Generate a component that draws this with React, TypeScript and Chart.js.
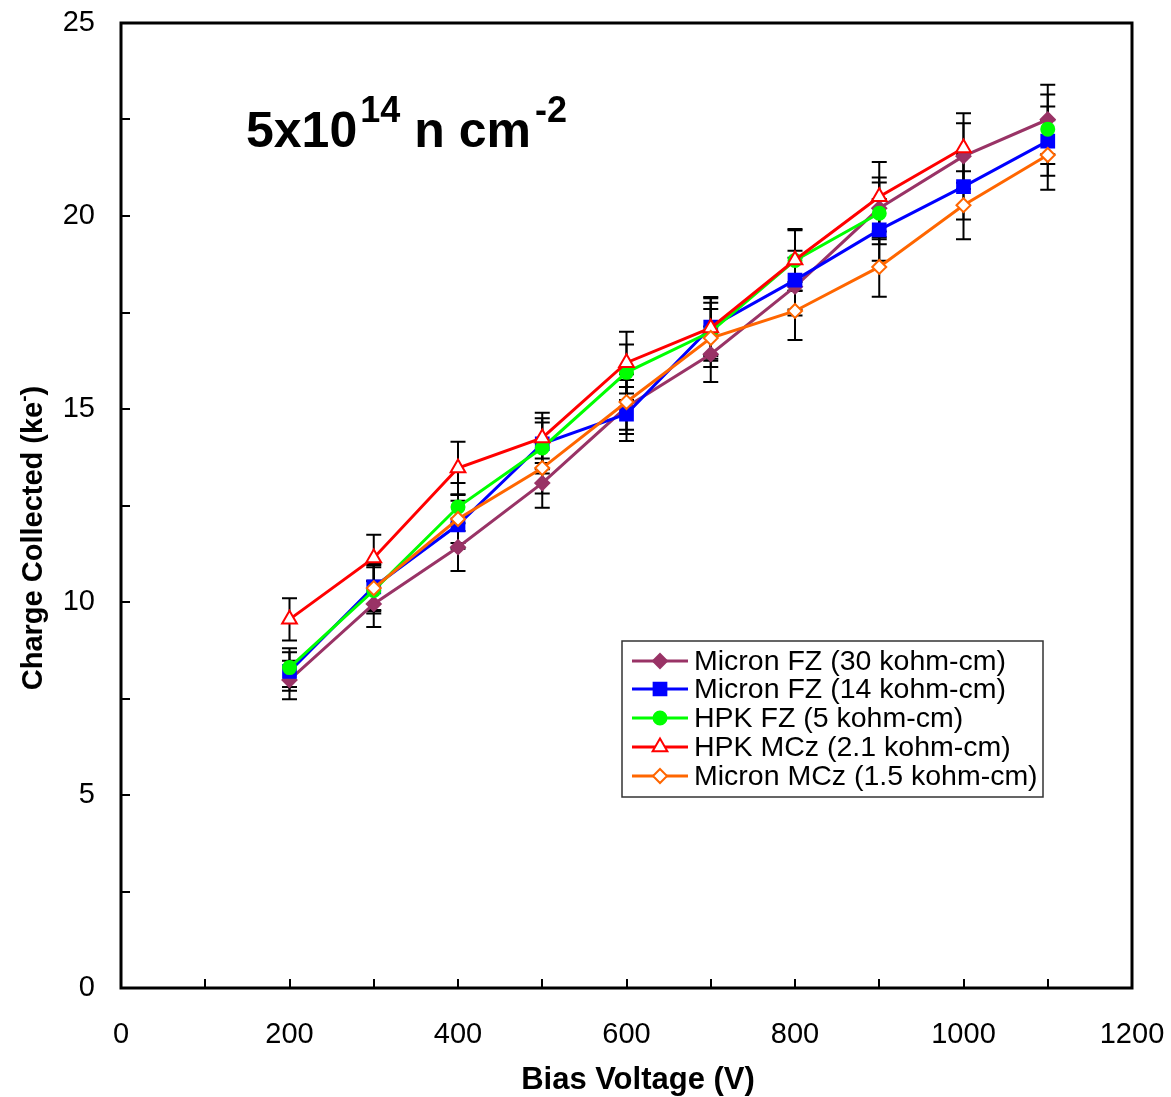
import React, { useEffect, useRef } from "react";
import { Chart, registerables } from "chart.js";

Chart.register(...registerables);

const voltages = [200, 300, 400, 500, 600, 700, 800, 900, 1000, 1100];

const microFZ30 = [7.98, 9.95, 11.42, 13.08, 15.05, 16.42, 18.17, 20.2, 21.55, 22.5];
const microFZ30Err = [0.5, 0.6, 0.62, 0.64, 0.7, 0.72, 0.75, 0.8, 0.85, 0.9];

const microFZ14 = [8.2, 10.39, 12.0, 14.1, 14.87, 17.12, 18.34, 19.64, 20.76, 21.94];
const microFZ14Err = [0.5, 0.6, 0.62, 0.66, 0.7, 0.75, 0.76, 0.8, 0.85, 0.9];

const hpkFZ = [8.3, 10.3, 12.46, 13.99, 15.95, 17.0, 18.85, 20.07, null, 22.25];
const hpkFZErr = [0.5, 0.6, 0.62, 0.66, 0.72, 0.75, 0.78, 0.8, 0, 0.9];

const hpkMCz = [9.55, 11.14, 13.47, 14.25, 16.2, 17.1, 18.86, 20.5, 21.76, null];
const hpkMCzErr = [0.55, 0.6, 0.68, 0.65, 0.8, 0.8, 0.8, 0.9, 0.9, 0];

const micronMCz = [null, 10.36, 12.15, 13.47, 15.18, 16.84, 17.54, 18.68, 20.28, 21.58];
const micronMCzErr = [0, 0.6, 0.62, 0.66, 0.72, 0.75, 0.75, 0.77, 0.88, 0.9];

const seriesLabels = [
  "Micron FZ (30 kohm-cm)",
  "Micron FZ (14 kohm-cm)",
  "HPK FZ (5 kohm-cm)",
  "HPK MCz (2.1 kohm-cm)",
  "Micron MCz (1.5 kohm-cm)",
];
const seriesValues = [microFZ30, microFZ14, hpkFZ, hpkMCz, micronMCz];
const seriesErrors = [microFZ30Err, microFZ14Err, hpkFZErr, hpkMCzErr, micronMCzErr];
const seriesColors = ["#993366", "#0000FF", "#00FF00", "#FF0000", "#FF6600"];
const seriesFill = ["#993366", "#0000FF", "#00FF00", "#FFFFFF", "#FFFFFF"];
const seriesStyle = ["rectRot", "rect", "circle", "triangle", "rectRot"];
const seriesRadius = [7, 9, 6.5, 8.5, 7];

const xMinorTicks = [100, 200, 300, 400, 500, 600, 700, 800, 900, 1000, 1100];
const yMinorTicks = [2.5, 5, 7.5, 10, 12.5, 15, 17.5, 20, 22.5];

const FONT = "'Liberation Sans', Arial, sans-serif";

function drawMarker(ctx: CanvasRenderingContext2D, style: string, x: number, y: number, r: number, fill: string, stroke: string) {
  ctx.save();
  ctx.fillStyle = fill;
  ctx.strokeStyle = stroke;
  ctx.lineWidth = 2;
  ctx.beginPath();
  if (style === "rectRot") {
    ctx.moveTo(x, y - r);
    ctx.lineTo(x + r, y);
    ctx.lineTo(x, y + r);
    ctx.lineTo(x - r, y);
    ctx.closePath();
  } else if (style === "rect") {
    const s = r * Math.SQRT1_2;
    ctx.rect(x - s, y - s, 2 * s, 2 * s);
  } else if (style === "circle") {
    ctx.arc(x, y, r, 0, Math.PI * 2);
  } else if (style === "triangle") {
    const a = r * 0.866;
    ctx.moveTo(x, y - r);
    ctx.lineTo(x + a, y + r / 2);
    ctx.lineTo(x - a, y + r / 2);
    ctx.closePath();
  }
  ctx.fill();
  ctx.stroke();
  ctx.restore();
}

const decorPlugin = {
  id: "decor",
  beforeDatasetsDraw(chart: any) {
    const ctx = chart.ctx as CanvasRenderingContext2D;
    const xs = chart.scales.x;
    const ys = chart.scales.y;
    ctx.save();
    ctx.strokeStyle = "#000";
    ctx.lineWidth = 2;
    seriesValues.forEach((vals, i) => {
      vals.forEach((v, j) => {
        if (v === null) return;
        const e = seriesErrors[i][j];
        const px = xs.getPixelForValue(voltages[j]);
        const top = ys.getPixelForValue(v + e);
        const bot = ys.getPixelForValue(v - e);
        ctx.beginPath();
        ctx.moveTo(px, top);
        ctx.lineTo(px, bot);
        ctx.moveTo(px - 7.5, top);
        ctx.lineTo(px + 7.5, top);
        ctx.moveTo(px - 7.5, bot);
        ctx.lineTo(px + 7.5, bot);
        ctx.stroke();
      });
    });
    ctx.restore();
  },
  afterDraw(chart: any) {
    const ctx = chart.ctx as CanvasRenderingContext2D;
    const xs = chart.scales.x;
    const ys = chart.scales.y;
    const a = chart.chartArea;
    ctx.save();
    // box
    ctx.strokeStyle = "#000";
    ctx.lineWidth = 3;
    ctx.strokeRect(a.left, a.top, a.right - a.left, a.bottom - a.top);
    // inner ticks
    ctx.lineWidth = 2;
    ctx.beginPath();
    xMinorTicks.forEach((t) => {
      const px = Math.round(xs.getPixelForValue(t));
      ctx.moveTo(px, a.bottom);
      ctx.lineTo(px, a.bottom - 9);
    });
    yMinorTicks.forEach((t) => {
      const py = Math.round(ys.getPixelForValue(t));
      ctx.moveTo(a.left, py);
      ctx.lineTo(a.left + 9, py);
    });
    ctx.stroke();

    // axis titles
    ctx.fillStyle = "#000";
    ctx.textBaseline = "alphabetic";
    ctx.font = `bold 31px ${FONT}`;
    ctx.textAlign = "center";
    ctx.fillText("Bias Voltage (V)", 638, 1089);

    // y title with superscript
    ctx.save();
    ctx.translate(42, 538);
    ctx.rotate(-Math.PI / 2);
    const main = "Charge Collected (ke";
    ctx.font = `bold 29px ${FONT}`;
    const wMain = ctx.measureText(main).width;
    ctx.font = `bold 19px ${FONT}`;
    const wSup = ctx.measureText("-").width;
    ctx.font = `bold 29px ${FONT}`;
    const wClose = ctx.measureText(")").width;
    const total = wMain + wSup + wClose;
    let cx = -total / 2;
    ctx.textAlign = "left";
    ctx.fillText(main, cx, 0);
    cx += wMain;
    ctx.font = `bold 19px ${FONT}`;
    ctx.fillText("-", cx, -12);
    cx += wSup;
    ctx.font = `bold 29px ${FONT}`;
    ctx.fillText(")", cx, 0);
    ctx.restore();

    // annotation
    ctx.textAlign = "left";
    const base = 147;
    ctx.font = `bold 50px ${FONT}`;
    ctx.fillText("5x10", 246, base);
    const afterMain = 246 + ctx.measureText("5x10").width;
    ctx.font = `bold 36px ${FONT}`;
    ctx.fillText("14", afterMain + 3, base - 25);
    const afterSup = afterMain + 3 + ctx.measureText("14").width;
    ctx.font = `bold 50px ${FONT}`;
    const nStart = afterSup + 14;
    ctx.fillText("n cm", nStart, base);
    const afterN = nStart + ctx.measureText("n cm").width;
    ctx.font = `bold 36px ${FONT}`;
    ctx.fillText("-2", afterN + 4, base - 25);

    // legend
    const lx = 622, ly = 641, lw = 421, lh = 156;
    ctx.fillStyle = "#fff";
    ctx.fillRect(lx, ly, lw, lh);
    ctx.strokeStyle = "#333";
    ctx.lineWidth = 1.5;
    ctx.strokeRect(lx, ly, lw, lh);
    const rowY = [661, 689, 718, 747, 776];
    ctx.font = `28.5px ${FONT}`;
    ctx.textBaseline = "middle";
    seriesLabels.forEach((lab, i) => {
      const y = rowY[i];
      ctx.strokeStyle = seriesColors[i];
      ctx.lineWidth = 3;
      ctx.beginPath();
      ctx.moveTo(632, y);
      ctx.lineTo(688, y);
      ctx.stroke();
      drawMarker(ctx, seriesStyle[i], 660, y, seriesRadius[i], seriesFill[i], seriesColors[i]);
      ctx.fillStyle = "#000";
      ctx.fillText(lab, 694, y + 1);
    });
    ctx.restore();
  },
};

export default function App() {
  const ref = useRef<HTMLCanvasElement | null>(null);
  useEffect(() => {
    document.body.style.margin = "0";
    if (!ref.current) return;
    const datasets = seriesLabels.map((lab, i) => ({
      label: lab,
      data: voltages.map((v, j) => ({ x: v, y: seriesValues[i][j] })),
      borderColor: seriesColors[i],
      backgroundColor: seriesFill[i],
      pointBackgroundColor: seriesFill[i],
      pointBorderColor: seriesColors[i],
      pointStyle: seriesStyle[i],
      pointRadius: seriesRadius[i],
      pointBorderWidth: 2,
      borderWidth: 3,
      spanGaps: false,
      order: seriesLabels.length - i,
      tension: 0,
    }));
    const chart = new Chart(ref.current, {
      type: "line",
      data: { datasets } as any,
      options: {
        responsive: false,
        animation: false,
        events: [],
        layout: { padding: { left: 0, top: 23, right: 39, bottom: 0 } },
        plugins: { legend: { display: false }, tooltip: { enabled: false } },
        scales: {
          x: {
            type: "linear",
            min: 0,
            max: 1200,
            ticks: {
              stepSize: 200,
              color: "#000",
              font: { family: FONT, size: 29 },
              padding: 30,
              maxRotation: 0,
              callback: (v: any) => String(v),
            },
            grid: { display: false, drawTicks: false },
            border: { display: false },
            afterFit: (s: any) => {
              s.height = 109;
              s.paddingLeft = 0;
              s.paddingRight = 0;
            },
          },
          y: {
            type: "linear",
            min: 0,
            max: 25,
            ticks: { stepSize: 5, color: "#000", font: { family: FONT, size: 29 }, padding: 26, callback: (v: any) => String(v) },
            grid: { display: false, drawTicks: false },
            border: { display: false },
            afterFit: (s: any) => {
              s.width = 121;
              s.paddingTop = 0;
              s.paddingBottom = 0;
            },
          },
        },
      } as any,
      plugins: [decorPlugin],
    });
    return () => chart.destroy();
  }, []);
  return <canvas ref={ref} width={1171} height={1097} style={{ display: "block" }} />;
}
